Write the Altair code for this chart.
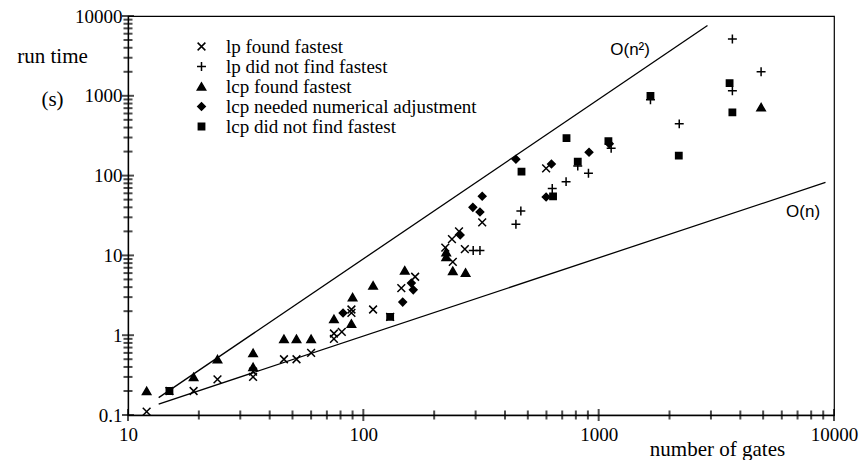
import altair as alt
import pandas as pd

# ---- data ----
series_names = ["lp found fastest", "lp did not find fastest", "lcp found fastest",
                "lcp needed numerical adjustment", "lcp did not find fastest"]

lp_found_gates = [12, 15, 19, 24, 34, 34, 46, 52, 60, 75, 75, 81, 89, 89, 110, 130,
                  145, 166, 223, 238, 255, 240, 270, 320, 598]
lp_found_time = [0.11, 0.2, 0.2, 0.28, 0.35, 0.3, 0.5, 0.5, 0.6, 0.9, 1.05, 1.1, 1.9,
                 2.1, 2.1, 1.7, 3.9, 5.4, 12.5, 16, 20, 8.3, 12, 26, 123]

lp_notfound_gates = [293, 313, 445, 467, 635, 727, 815, 905, 1130, 1660, 2200, 3700, 3700, 4900]
lp_notfound_time = [11.5, 11.5, 24.5, 36, 69, 84, 132, 107, 220, 890, 445, 5150, 1160, 2000]

lcp_found_gates = [12, 19, 24, 34, 34, 46, 52, 60, 75, 89, 90, 110, 150, 225, 225, 240, 272, 4900]
lcp_found_time = [0.2, 0.3, 0.5, 0.6, 0.4, 0.9, 0.9, 0.9, 1.6, 1.4, 3.0, 4.2, 6.5, 11, 9.6,
                  6.4, 6.1, 720]

lcp_adj_gates = [82, 147, 163, 160, 258, 292, 313, 320, 445, 598, 630, 910, 1110]
lcp_adj_time = [1.9, 2.6, 3.7, 4.5, 18, 40, 35, 55, 160, 54, 140, 196, 250]

lcp_notfound_gates = [15, 130, 470, 640, 730, 815, 1100, 1660, 2190, 3600, 3700]
lcp_notfound_time = [0.2, 1.7, 112, 55, 295, 150, 270, 1000, 178, 1440, 620]

# reference lines (end points)
line_names = ["O(n²)", "O(n²)", "O(n)", "O(n)"]
line_gates = [13.5, 2900, 13.5, 9200]
line_time = [0.165, 7600, 0.137, 82]

label_text = ["O(n²)", "O(n)"]
label_gates = [1360, 7390]
label_time = [3750, 35]

# tick values (major decades are labelled)
x_major = [10, 100, 1000, 10000]
y_major = [0.1, 1, 10, 100, 1000, 10000]
x_minor = [m * 10 ** e for e in range(1, 4) for m in range(2, 10)]
y_minor = [round(m * 10 ** e, 6) for e in range(-1, 4) for m in range(2, 10)]

# ---- build tables ----
rows = []
for name, gs, ts in zip(series_names,
                        [lp_found_gates, lp_notfound_gates, lcp_found_gates, lcp_adj_gates, lcp_notfound_gates],
                        [lp_found_time, lp_notfound_time, lcp_found_time, lcp_adj_time, lcp_notfound_time]):
    for g, t in zip(gs, ts):
        rows.append({"gates": g, "time": t, "series": name})
pts = pd.DataFrame(rows)
lines = pd.DataFrame({"gates": line_gates, "time": line_time, "line": line_names})
labels = pd.DataFrame({"gates": label_gates, "time": label_time, "text": label_text})
xt_major = pd.DataFrame({"gates": x_major})
xt_minor = pd.DataFrame({"gates": x_minor})
yt_major = pd.DataFrame({"time": y_major})
yt_minor = pd.DataFrame({"time": y_minor})

SERIF = "Liberation Serif"
W, H = 706, 399

xscale = alt.Scale(type="log", domain=[10, 10000], nice=False)
yscale = alt.Scale(type="log", domain=[0.1, 10000], nice=False)

xaxis = alt.Axis(values=x_major, format="~g", ticks=False,
                 grid=False, domainColor="black", domainWidth=1.3, labelColor="black",
                 labelFont=SERIF, labelFontSize=19, labelPadding=10, labelFlush=False,
                 labelOverlap=False,
                 title="number of gates", titleFont=SERIF, titleFontSize=21,
                 titleFontWeight="normal", titleColor="black",
                 titleAnchor="start", titleAlign="center", titleX=589, titleY=40,
                 titleBaseline="alphabetic")
yaxis = alt.Axis(values=y_major, format="~g", ticks=False,
                 grid=False, domainColor="black", domainWidth=1.3, labelColor="black",
                 labelFont=SERIF, labelFontSize=19, labelPadding=6, labelFlush=False,
                 labelOverlap=False,
                 title=["run time", "(s)"], titleFont=SERIF, titleFontSize=21,
                 titleFontWeight="normal", titleColor="black", titleAngle=0,
                 titleAnchor="start", titleAlign="center", titleX=-76, titleY=29,
                 titleBaseline="top", titleLineHeight=43)

shape_range = ["M-1,-1L1,1M-1,1L1,-1", "M-1,0L1,0M0,-1L0,1", "triangle-up", "diamond", "square"]
fill_range = ["transparent", "transparent", "black", "black", "black"]
size_range = [60, 80, 70, 56, 40]

points = alt.Chart(pts).mark_point(filled=True, stroke="black", strokeWidth=1.5, opacity=1).encode(
    x=alt.X("gates:Q", scale=xscale, axis=xaxis),
    y=alt.Y("time:Q", scale=yscale, axis=yaxis),
    shape=alt.Shape("series:N", scale=alt.Scale(domain=series_names, range=shape_range),
                    legend=alt.Legend(title=None, orient="none", legendX=64, legendY=21,
                                      labelFont=SERIF, labelFontSize=19, labelColor="black",
                                      labelOffset=15, rowPadding=0, padding=0,
                                      symbolStrokeColor="black", symbolStrokeWidth=1.5,
                                      labelLimit=400)),
    fill=alt.Fill("series:N", scale=alt.Scale(domain=series_names, range=fill_range)),
    size=alt.Size("series:N", scale=alt.Scale(type="ordinal", domain=series_names, range=size_range)),
)

ref_lines = alt.Chart(lines).mark_line(color="black", strokeWidth=1.3).encode(
    x=alt.X("gates:Q", scale=xscale),
    y=alt.Y("time:Q", scale=yscale),
    detail="line:N",
)

ref_labels = alt.Chart(labels).mark_text(font="Liberation Sans", fontSize=17, color="black").encode(
    x=alt.X("gates:Q", scale=xscale),
    y=alt.Y("time:Q", scale=yscale),
    text="text:N",
)

# axis ticks drawn as short tick marks straddling the axis lines
xtick_major = alt.Chart(xt_major).mark_tick(color="black", orient="vertical", thickness=2, size=12).encode(
    x=alt.X("gates:Q", scale=xscale), y=alt.value(H))
xtick_minor = alt.Chart(xt_minor).mark_tick(color="black", orient="vertical", thickness=2, size=9).encode(
    x=alt.X("gates:Q", scale=xscale), y=alt.value(H))
ytick_major = alt.Chart(yt_major).mark_tick(color="black", orient="horizontal", thickness=2, size=12).encode(
    y=alt.Y("time:Q", scale=yscale), x=alt.value(0))
ytick_minor = alt.Chart(yt_minor).mark_tick(color="black", orient="horizontal", thickness=2, size=9).encode(
    y=alt.Y("time:Q", scale=yscale), x=alt.value(0))

chart = alt.layer(points, ref_lines, ref_labels,
                  xtick_major, xtick_minor, ytick_major, ytick_minor).properties(
    width=W, height=H,
    autosize=alt.AutoSizeParams(type="none"),
    padding={"left": 128, "top": 16, "right": 29, "bottom": 45},
    background="white",
).configure_view(stroke="black", strokeWidth=1.2)

chart.save("out.html", embed_options={"renderer": "svg", "actions": False})
